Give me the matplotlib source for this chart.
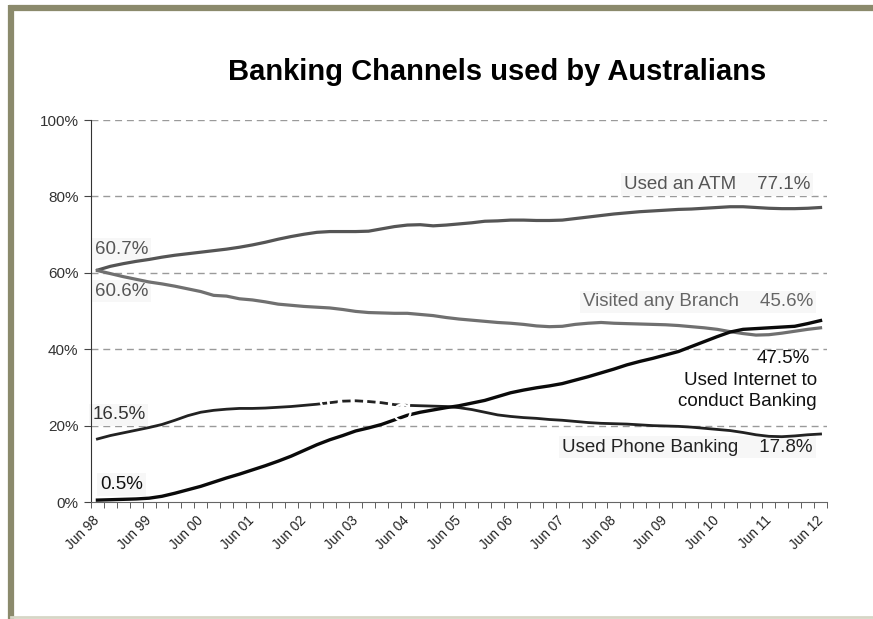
import matplotlib.pyplot as plt
from matplotlib.lines import Line2D
from matplotlib.transforms import ScaledTranslation

plt.rcParams['font.family'] = ['Liberation Sans', 'DejaVu Sans']

# quarterly survey points, Jun 98 .. Jun 12
periods = ['Jun %02d' % (y % 100) for y in range(1998, 2013)]

atm = [60.7, 61.7, 62.4, 63.0, 63.5, 64.1, 64.6, 65.0, 65.4, 65.8,
       66.2, 66.7, 67.3, 68.0, 68.8, 69.5, 70.1, 70.6, 70.8, 70.8,
       70.8, 70.9, 71.5, 72.1, 72.5, 72.6, 72.3, 72.5, 72.8, 73.1,
       73.5, 73.6, 73.8, 73.8, 73.7, 73.7, 73.8, 74.2, 74.6, 75.0,
       75.4, 75.7, 76.0, 76.2, 76.4, 76.6, 76.7, 76.9, 77.1, 77.3,
       77.3, 77.1, 76.9, 76.8, 76.8, 76.9, 77.1]

branch = [60.6, 59.8, 59.0, 58.3, 57.6, 57.1, 56.5, 55.8, 55.1, 54.1,
          53.9, 53.2, 52.9, 52.4, 51.8, 51.5, 51.2, 51.0, 50.8, 50.4,
          49.9, 49.6, 49.5, 49.4, 49.4, 49.1, 48.8, 48.3, 47.9, 47.6,
          47.3, 47.0, 46.8, 46.5, 46.1, 45.9, 46.0, 46.5, 46.8, 47.0,
          46.8, 46.7, 46.6, 46.5, 46.4, 46.2, 45.9, 45.6, 45.2, 44.6,
          44.1, 43.7, 43.8, 44.2, 44.7, 45.2, 45.6]

phone = [16.5, 17.4, 18.1, 18.8, 19.5, 20.3, 21.4, 22.6, 23.5, 24.0,
         24.3, 24.5, 24.5, 24.6, 24.8, 25.0, 25.3, 25.6, 26.0, 26.4,
         26.5, 26.3, 26.0, 25.5, 25.3, 25.2, 25.1, 25.0, 24.7, 24.2,
         23.5, 22.8, 22.4, 22.1, 21.9, 21.6, 21.4, 21.1, 20.8, 20.6,
         20.5, 20.4, 20.2, 20.0, 19.9, 19.8, 19.6, 19.3, 19.0, 18.7,
         18.2, 17.6, 17.2, 17.1, 17.3, 17.6, 17.8]

internet = [0.5, 0.6, 0.7, 0.8, 1.0, 1.5, 2.3, 3.2, 4.1, 5.2,
            6.3, 7.3, 8.4, 9.5, 10.7, 12.0, 13.5, 15.0, 16.3, 17.4,
            18.6, 19.4, 20.3, 21.5, 22.7, 23.5, 24.1, 24.7, 25.2, 25.9,
            26.6, 27.6, 28.6, 29.3, 29.9, 30.4, 31.0, 31.9, 32.8, 33.8,
            34.8, 35.9, 36.8, 37.6, 38.5, 39.4, 40.7, 42.0, 43.3, 44.5,
            45.2, 45.4, 45.6, 45.8, 46.0, 46.7, 47.5]

x = list(range(len(atm)))

fig = plt.figure(figsize=(8.73, 6.19), dpi=100)
ax = fig.add_axes([0.1042, 0.189, 0.8431, 0.6171])

# outer frame
fig.add_artist(Line2D([0.0126, 0.0126], [0, 0.992], color='#8b8a6c', lw=4.5, solid_capstyle='butt'))
fig.add_artist(Line2D([0.0103, 1.0], [0.9873, 0.9873], color='#8b8a6c', lw=4.5, solid_capstyle='butt'))
fig.add_artist(Line2D([0.0126, 1.0], [0.004, 0.004], color='#d6d6c6', lw=2))

for v in [20, 40, 60, 80, 100]:
    ax.axhline(v, color='#9a9a9a', lw=1, ls=(0, (5, 3.5)), zorder=1)

ax.plot(x, atm, color='#555555', lw=2.3, zorder=3)
ax.plot(x, branch, color='#707070', lw=2.3, zorder=3)
ax.plot(x, internet, color='#0a0a0a', lw=2.4, zorder=4)

# phone banking, with a broken stretch in the middle
ax.plot(x[:19], phone[:19], color='#222222', lw=2.0, zorder=3)
ax.plot(x[18:25], phone[18:25], color='white', lw=4.0, zorder=5)
ax.plot(x[18:25], phone[18:25], color='#222222', lw=2.0, ls=(0, (3, 1.5)), zorder=6)
ax.plot(x[24:], phone[24:], color='#222222', lw=2.0, zorder=3)
ax.scatter([18.0, 23.6], [26.4, 23.4], s=[170, 140], facecolors='none',
           edgecolors='white', linewidths=1.6, zorder=7)

ax.set_xlim(-0.5, len(atm) - 0.5)
ax.set_ylim(0, 100)
ax.set_yticks([0, 20, 40, 60, 80, 100])
ax.set_yticklabels(['%d%%' % v for v in [0, 20, 40, 60, 80, 100]],
                   fontsize=11, color='#333333')
ax.set_xticks(list(range(0, len(atm), 4)))
ax.set_xticklabels(periods, rotation=45, ha='right', rotation_mode='anchor',
                   fontsize=9.8, color='#222222')
ax.set_xticks([i - 0.5 for i in range(len(atm) + 1)], minor=True)
ax.tick_params(axis='x', which='major', length=0, pad=8)
ax.tick_params(axis='x', which='minor', length=4, color='#444444', direction='out')
ax.tick_params(axis='y', length=5, color='#444444', pad=4)
shift = ScaledTranslation(-5 / 100, 0, fig.dpi_scale_trans)
for lab in ax.get_xticklabels():
    lab.set_transform(lab.get_transform() + shift)

for s in ['top', 'right']:
    ax.spines[s].set_visible(False)
ax.spines['left'].set_color('#333333')
ax.spines['bottom'].set_color('#666666')

box = dict(boxstyle='square,pad=0.15', facecolor='#f7f7f7', edgecolor='none')
fs = 13.5
ax.text(-0.2, 66.2, '60.7%', fontsize=fs, color='#555555', ha='left', va='center', bbox=box, zorder=2)
ax.text(-0.2, 55.2, '60.6%', fontsize=fs, color='#555555', ha='left', va='center', bbox=box, zorder=2)
ax.text(-0.4, 22.8, '16.5%', fontsize=fs, color='#333333', ha='left', va='center', bbox=box, zorder=2)
ax.text(0.2, 4.6, '0.5%', fontsize=fs, color='#111111', ha='left', va='center', bbox=box, zorder=2)
ax.text(55.2, 83.2, 'Used an ATM    77.1%', fontsize=fs, color='#555555', ha='right', va='center', bbox=box, zorder=2)
ax.text(55.4, 52.4, 'Visited any Branch    45.6%', fontsize=fs, color='#666666', ha='right', va='center', bbox=box, zorder=2)
ax.text(55.2, 37.7, '47.5%', fontsize=fs, color='#111111', ha='right', va='center', zorder=2)
ax.text(55.7, 31.9, 'Used Internet to', fontsize=fs, color='#111111', ha='right', va='center', zorder=2)
ax.text(55.7, 26.4, 'conduct Banking', fontsize=fs, color='#111111', ha='right', va='center', zorder=2)
ax.text(55.4, 14.4, 'Used Phone Banking    17.8%', fontsize=fs, color='#222222', ha='right', va='center', bbox=box, zorder=2)

fig.text(0.569, 0.884, 'Banking Channels used by Australians', fontsize=21,
         fontweight='bold', ha='center', va='center', color='black')

fig.savefig('out.png', dpi=100)
